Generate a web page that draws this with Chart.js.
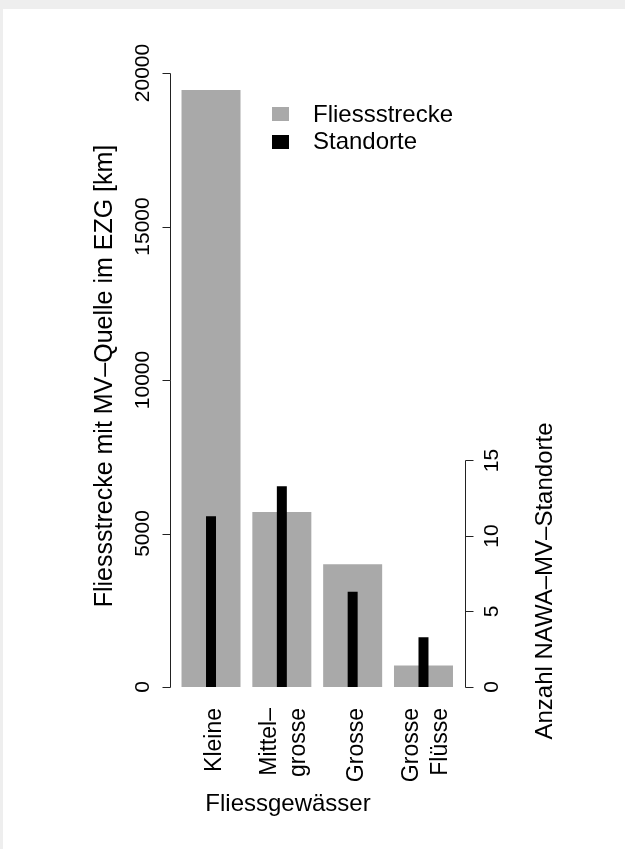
<!DOCTYPE html>
<html lang="de">
<head>
<meta charset="UTF-8">
<title>Fliessstrecke und NAWA-MV-Standorte</title>
<style>
  html, body { margin: 0; padding: 0; background: #eeeeee; }
  canvas { display: block; }
</style>
</head>
<body>
<canvas id="chart" width="625" height="849"></canvas>
<script src="https://cdn.jsdelivr.net/npm/chart.js"></script>
<script>
// Daten
const kategorien = [['Kleine'], ['Mittel–', 'grosse'], ['Grosse'], ['Grosse', 'Flüsse']];
const fliessstrecke = [19450, 5700, 4000, 700];   // km
const standorte = [11.3, 13.3, 6.3, 3.3];         // Anzahl
const ticksLinks = [0, 5000, 10000, 15000, 20000];
const ticksRechts = [0, 5, 10, 15];

const GRAU = '#a9a9a9';
const SCHRIFT = '"Liberation Sans", Arial, sans-serif';

// gedrehter Text (von unten nach oben lesbar)
function textHoch(ctx, text, x, y, align, size) {
    ctx.save();
    ctx.translate(x, y);
    ctx.rotate(-Math.PI / 2);
    ctx.textAlign = align;
    ctx.textBaseline = 'alphabetic';
    ctx.font = size + 'px ' + SCHRIFT;
    ctx.fillText(text, 0, 0);
    ctx.restore();
}

const achsenPlugin = {
    id: 'achsen',
    beforeDraw(chart) {
        const ctx = chart.ctx;
        ctx.save();
        ctx.fillStyle = '#eeeeee';
        ctx.fillRect(0, 0, chart.width, chart.height);
        ctx.fillStyle = '#ffffff';
        ctx.fillRect(3, 9, chart.width - 3, chart.height - 9);
        ctx.restore();
    },
    afterDraw(chart) {
        const ctx = chart.ctx;
        const sx = chart.scales.x, sy = chart.scales.y, sy2 = chart.scales.y2;
        ctx.save();
        ctx.strokeStyle = '#222222';
        ctx.fillStyle = '#000000';
        ctx.lineWidth = 1;

        // linke Achse
        const xl = 170.5;
        ctx.beginPath();
        ctx.moveTo(xl, Math.round(sy.getPixelForValue(ticksLinks[0])) + 0.5);
        ctx.lineTo(xl, Math.round(sy.getPixelForValue(ticksLinks[ticksLinks.length - 1])) + 0.5);
        ticksLinks.forEach(v => {
            const py = Math.round(sy.getPixelForValue(v)) + 0.5;
            ctx.moveTo(xl, py);
            ctx.lineTo(xl - 8, py);
        });
        ctx.stroke();
        ticksLinks.forEach(v => textHoch(ctx, String(v), 148.5, sy.getPixelForValue(v), 'center', 21));
        textHoch(ctx, 'Fliessstrecke mit MV–Quelle im EZG [km]', 112, 376, 'center', 25);

        // rechte Achse
        const xr = 465.5;
        ctx.beginPath();
        ctx.moveTo(xr, Math.round(sy2.getPixelForValue(ticksRechts[0])) + 0.5);
        ctx.lineTo(xr, Math.round(sy2.getPixelForValue(ticksRechts[ticksRechts.length - 1])) + 0.5);
        ticksRechts.forEach(v => {
            const py = Math.round(sy2.getPixelForValue(v)) + 0.5;
            ctx.moveTo(xr, py);
            ctx.lineTo(xr + 8, py);
        });
        ctx.stroke();
        ticksRechts.forEach(v => textHoch(ctx, String(v), 498, sy2.getPixelForValue(v), 'center', 21));
        textHoch(ctx, 'Anzahl NAWA–MV–Standorte', 552, 581, 'center', 24);

        // Kategorien
        kategorien.forEach((zeilen, i) => {
            const cx = sx.getPixelForValue(i);
            const n = zeilen.length;
            zeilen.forEach((z, j) => {
                const bx = cx + 10 - (n - 1) * 1 + (j - (n - 1) / 2) * 29;
                textHoch(ctx, z, bx, 708, 'right', 23);
            });
        });
        ctx.font = '24px ' + SCHRIFT;
        ctx.textAlign = 'center';
        ctx.textBaseline = 'alphabetic';
        ctx.fillText('Fliessgewässer', 288, 811);

        // Legende
        const legende = [['Fliessstrecke', GRAU, 107, 121.5], ['Standorte', '#000000', 135, 148.5]];
        legende.forEach(([txt, farbe, top, base]) => {
            ctx.fillStyle = farbe;
            ctx.fillRect(272, top, 17, 14);
            ctx.fillStyle = '#000000';
            ctx.textAlign = 'left';
            ctx.fillText(txt, 313, base);
        });
        ctx.restore();
    }
};

const ctx = document.getElementById('chart').getContext('2d');
new Chart(ctx, {
    type: 'bar',
    data: {
        labels: kategorien,
        datasets: [{
            label: 'Standorte',
            data: standorte,
            yAxisID: 'y2',
            backgroundColor: '#000000',
            grouped: false,
            barPercentage: 0.141,
            categoryPercentage: 1,
            order: 0
        }, {
            label: 'Fliessstrecke',
            data: fliessstrecke,
            yAxisID: 'y',
            backgroundColor: GRAU,
            grouped: false,
            barPercentage: 0.833,
            categoryPercentage: 1,
            order: 1
        }]
    },
    options: {
        responsive: false,
        animation: false,
        devicePixelRatio: 1,
        layout: { padding: { left: 175.6, right: 166.1, top: 73, bottom: 162 } },
        plugins: { legend: { display: false }, tooltip: { enabled: false } },
        scales: {
            x: { display: false, offset: true },
            y: { display: false, min: 0, max: 20000 },
            y2: { display: false, position: 'right', min: 0, max: 40.66 }
        }
    },
    plugins: [achsenPlugin]
});
</script>
</body>
</html>
